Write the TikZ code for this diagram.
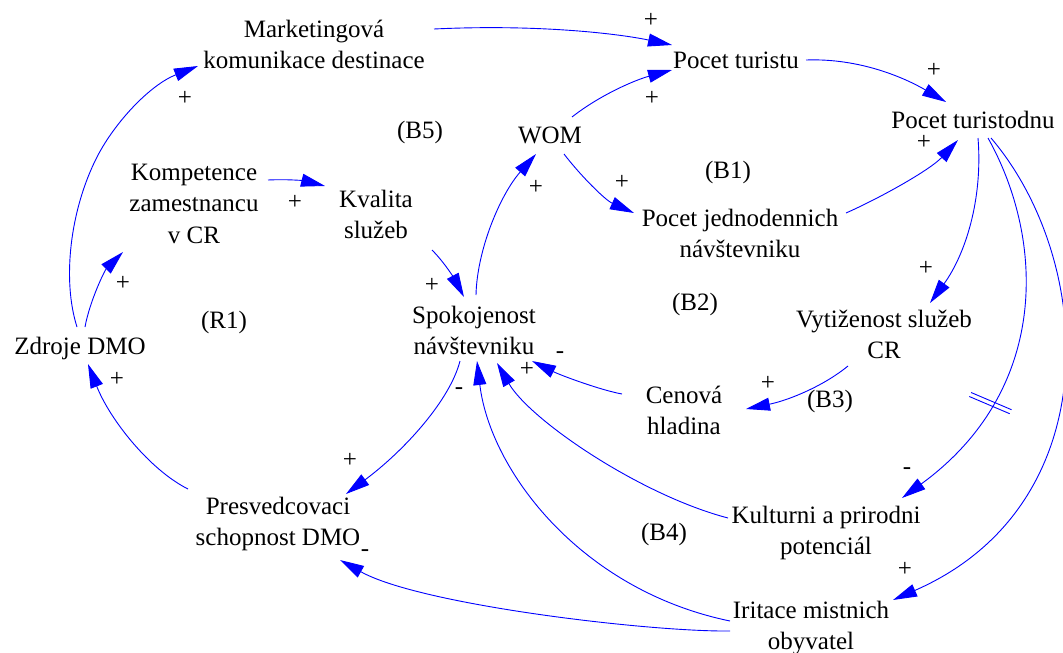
\documentclass[tikz,border=0pt]{standalone}
\usepackage{fontspec}
\setmainfont{Liberation Serif}
\usetikzlibrary{arrows.meta,calc}
\newcommand{\mlines}[1]{\begin{tabular}[t]{@{}c@{}}#1\end{tabular}}
\begin{document}
\begin{tikzpicture}[x=1pt,y=-1pt,
  lbl/.style={font=\fontsize{25}{31.5}\selectfont, inner sep=0pt, anchor=base, text=black},
  looplbl/.style={font=\fontsize{25}{31.5}\selectfont, inner sep=0pt, anchor=center, text=black},
  sgnp/.style={font=\fontsize{25}{31.5}\selectfont, inner sep=0pt, anchor=center, text=black},
  sgnm/.style={font=\fontsize{25}{31.5}\selectfont, inner sep=0pt, anchor=center, text=black, yshift=-2.5pt},
  link/.style={draw=blue, line width=0.9pt, -{Triangle[length=24pt,width=13pt]}},
  delaymark/.style={draw=blue, line width=0.9pt},
]
\useasboundingbox[fill=white] (0,0) rectangle (1063,653);

% variables
\node[lbl] (mkt) at (314,37) {\mlines{Marketingová\\komunikace destinace}};
\node[lbl] (pt) at (736,68) {Pocet turistu};
\node[lbl] (ptd) at (973,128) {Pocet turistodnu};
\node[lbl] (wom) at (550,143) {WOM};
\node[lbl] (pjn) at (740,226) {\mlines{Pocet jednodennich\\návštevniku}};
\node[lbl] (komp) at (194,180) {\mlines{Kompetence\\zamestnancu\\v CR}};
\node[lbl] (kval) at (376,207) {\mlines{Kvalita\\služeb}};
\node[lbl] (spok) at (474,323) {\mlines{Spokojenost\\návštevniku}};
\node[lbl] (zdroje) at (80,354) {Zdroje DMO};
\node[lbl] (pres) at (278,514) {\mlines{Presvedcovaci\\schopnost DMO}};
\node[lbl] (cen) at (684,403) {\mlines{Cenová\\hladina}};
\node[lbl] (vyt) at (884,327) {\mlines{Vytiženost služeb\\CR}};
\node[lbl] (kult) at (826,523) {\mlines{Kulturni a prirodni\\potenciál}};
\node[lbl] (irit) at (811,618) {\mlines{Iritace mistnich\\obyvatel}};

% loop labels
\node[looplbl] (b5) at (420,132) {(B5)};
\node[looplbl] (b1) at (728,172) {(B1)};
\node[looplbl] (b2) at (695,304) {(B2)};
\node[looplbl] (r1) at (224,322) {(R1)};
\node[looplbl] (b3) at (830,401) {(B3)};
\node[looplbl] (b4) at (664,534) {(B4)};

% links
\draw[link] ([shift={(120,-8)}]mkt.base) .. controls (540,24) and (620,34) .. ([shift={(-64,-23)}]pt.base);
\draw[link] ([shift={(22,-26)}]wom.base) .. controls (600,95) and (635,80) .. ([shift={(-64,2)}]pt.base);
\draw[link] ([shift={(70,-8)}]pt.base) .. controls (860,58) and (905,78) .. ([shift={(-27,-26)}]ptd.base);
\draw[link] ([shift={(14,11)}]wom.base) .. controls (580,175) and (605,200) .. ([shift={(-106,-13)}]pjn.base);
\draw[link] ([shift={(106,-13)}]pjn.base) .. controls (880,198) and (930,170) .. ([shift={(-15,12)}]ptd.base);
\draw[link] ([shift={(5,10)}]ptd.base) .. controls (983,200) and (965,255) .. ([shift={(46,-24)}]vyt.base);
\draw[link] ([shift={(15,10)}]ptd.base) .. controls (1045,240) and (1050,390) .. coordinate[pos=0.73] (dm) ([shift={(76,-25)}]kult.base);
\draw[delaymark] ($(dm)+(-21.1,-6.6)$) -- ($(dm)+(19.3,10.6)$);
\draw[delaymark] ($(dm)+(-19.3,-10.6)$) -- ($(dm)+(21.1,6.6)$);
\draw[link] ([shift={(18,10)}]ptd.base) .. controls (1095,260) and (1110,505) .. ([shift={(82,-18)}]irit.base);
\draw[link] ([shift={(-3,-27)}]zdroje.base) .. controls (62,280) and (70,210) .. (97,157) .. controls (115,122) and (150,85) .. ([shift={(-116,29)}]mkt.base);
\draw[link] ([shift={(5,-27)}]zdroje.base) .. controls (90,300) and (105,270) .. ([shift={(-71,72)}]komp.base);
\draw[link] ([shift={(74,0)}]komp.base) .. controls (290,179) and (305,181) .. ([shift={(-51,-21)}]kval.base);
\draw[link] ([shift={(56,43)}]kval.base) .. controls (445,263) and (455,280) .. ([shift={(-10,-26)}]spok.base);
\draw[link] ([shift={(2,-28)}]spok.base) .. controls (477,250) and (500,195) .. ([shift={(-14,11)}]wom.base);
\draw[link] ([shift={(-90,-25)}]pres.base) .. controls (150,470) and (110,420) .. ([shift={(8,10)}]zdroje.base);
\draw[link] ([shift={(-14,38)}]spok.base) .. controls (450,400) and (405,450) .. ([shift={(68,-20)}]pres.base);
\draw[link] ([shift={(-81,13)}]irit.base) .. controls (650,632) and (420,605) .. ([shift={(62,46)}]pres.base);
\draw[link] ([shift={(-81,3)}]irit.base) .. controls (580,590) and (490,470) .. ([shift={(3,38)}]spok.base);
\draw[link] ([shift={(-98,-5)}]kult.base) .. controls (640,495) and (530,420) .. ([shift={(23,40)}]spok.base);
\draw[link] ([shift={(-62,-9)}]cen.base) .. controls (600,390) and (560,375) .. ([shift={(58,38)}]spok.base);
\draw[link] ([shift={(-36,39)}]vyt.base) .. controls (825,385) and (790,400) .. ([shift={(62,6)}]cen.base);

% polarities
\node[sgnp] (s1) at (651,20) {+};
\node[sgnp] (s2) at (652,98) {+};
\node[sgnp] (s3) at (934,70) {+};
\node[sgnp] (s4) at (622,182) {+};
\node[sgnp] (s5) at (924,142) {+};
\node[sgnp] (s6) at (926,268) {+};
\node[sgnp] (s7) at (185,98) {+};
\node[sgnp] (s8) at (295,202) {+};
\node[sgnp] (s9) at (123,283) {+};
\node[sgnp] (s10) at (536,187) {+};
\node[sgnp] (s11) at (432,285) {+};
\node[sgnp] (s12) at (117,379) {+};
\node[sgnm] (s13) at (459,389) {-};
\node[sgnp] (s14) at (350,460) {+};
\node[sgnp] (s15) at (768,383) {+};
\node[sgnm] (s16) at (560,353) {-};
\node[sgnp] (s17) at (527,369) {+};
\node[sgnm] (s18) at (907,469) {-};
\node[sgnp] (s19) at (905,569) {+};
\node[sgnm] (s20) at (365,551) {-};
\end{tikzpicture}
\end{document}
